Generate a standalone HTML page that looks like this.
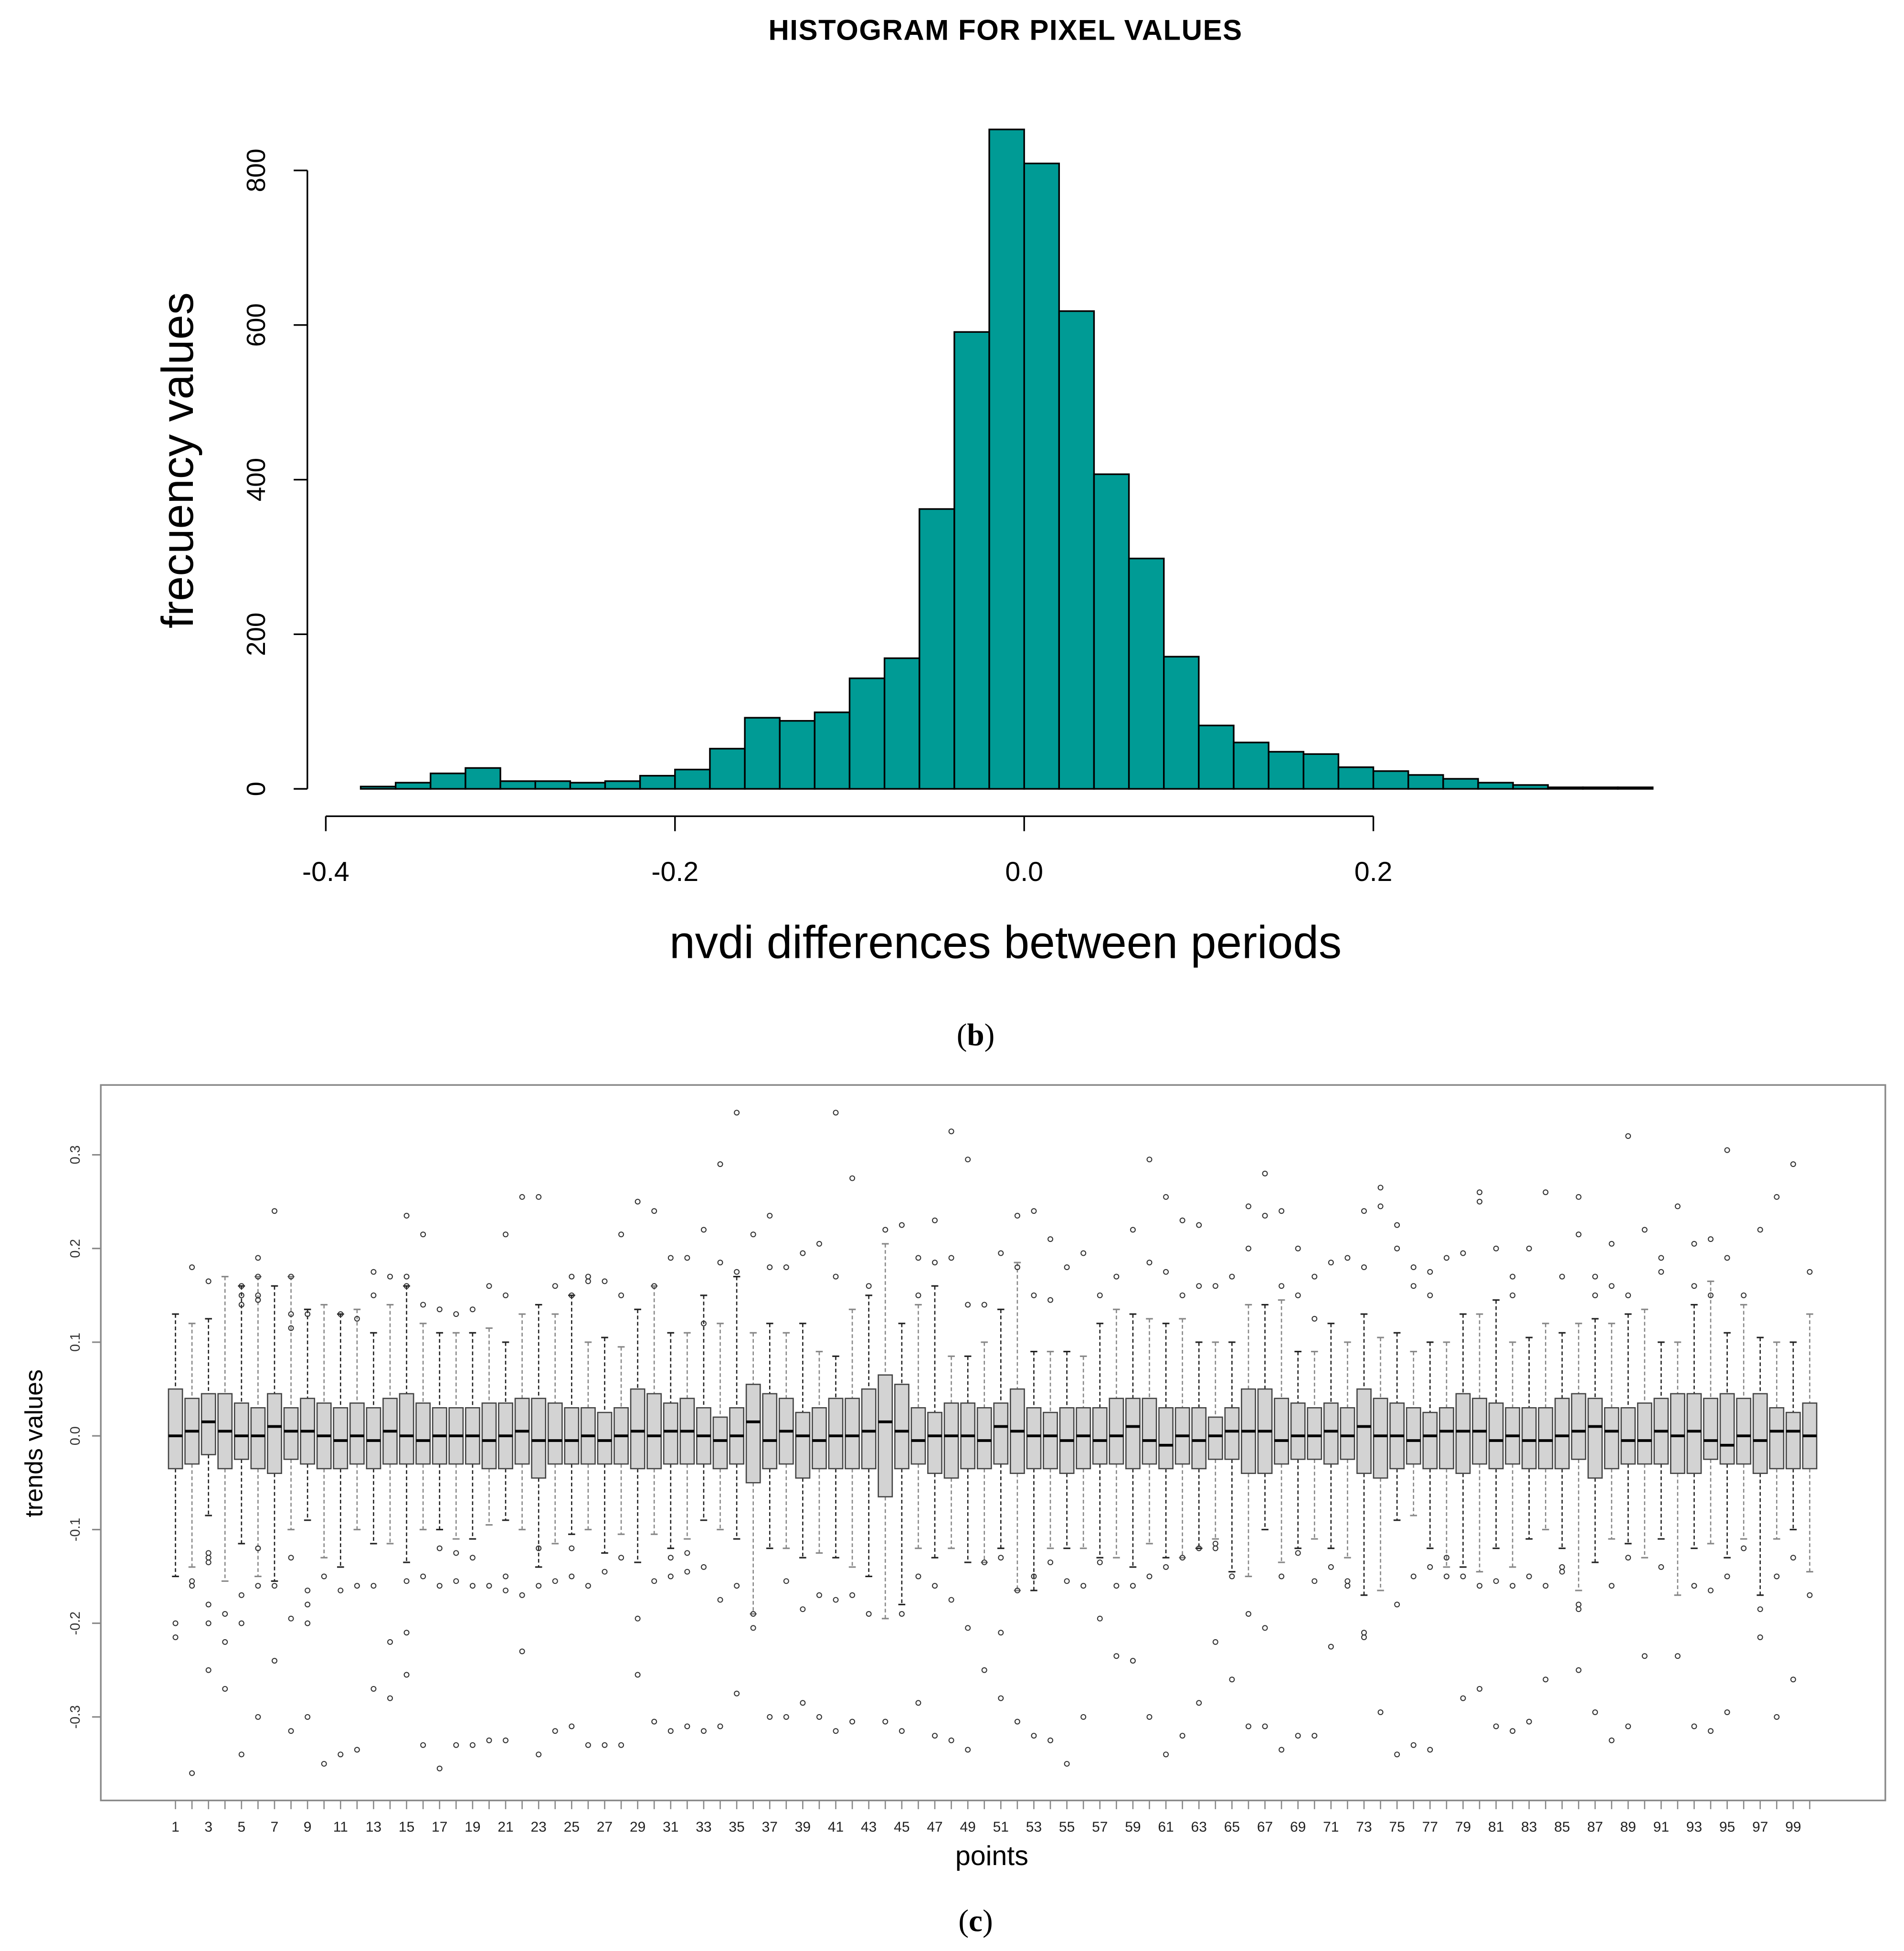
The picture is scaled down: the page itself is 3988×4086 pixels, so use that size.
<!DOCTYPE html>
<html><head><meta charset="utf-8"><style>
html,body{margin:0;padding:0;background:#fff;}
svg{display:block;}
text{font-family:"Liberation Sans",sans-serif;}
</style></head><body>
<svg id="fig" width="3988" height="4086" viewBox="0 0 1530 1568" preserveAspectRatio="none" xmlns="http://www.w3.org/2000/svg">
<rect x="0" y="0" width="1530" height="1568" fill="#fff"/>
<text x="808" y="32" text-anchor="middle" font-size="23" font-weight="bold" letter-spacing="0.6">HISTOGRAM FOR PIXEL VALUES</text>
<g id="hist"></g>
<text transform="translate(155,370) rotate(-90)" text-anchor="middle" font-size="36">frecuency values</text>
<text x="808" y="770" text-anchor="middle" font-size="37">nvdi differences between periods</text>
<text x="784" y="840" text-anchor="middle" font-size="25" style="font-family:'Liberation Serif',serif">(<tspan font-weight="bold">b</tspan>)</text>
<rect x="81" y="872" width="1434" height="575" fill="none" stroke="#888" stroke-width="1.3"/>
<g id="box"></g>
<text transform="translate(34,1160) rotate(-90)" text-anchor="middle" font-size="20">trends values</text>
<text x="797" y="1499" text-anchor="middle" font-size="22">points</text>
<text x="784" y="1552" text-anchor="middle" font-size="25" style="font-family:'Liberation Serif',serif">(<tspan font-weight="bold">c</tspan>)</text>
</svg>
<script>
const binStarts=[-0.38,-0.36,-0.34,-0.32,-0.30,-0.28,-0.26,-0.24,-0.22,-0.20,-0.18,-0.16,-0.14,-0.12,-0.10,-0.08,-0.06,-0.04,-0.02,0.00,0.02,0.04,0.06,0.08,0.10,0.12,0.14,0.16,0.18,0.20,0.22,0.24,0.26,0.28,0.30,0.32,0.34];
const binCounts=[3,8,20,27,10,10,8,10,17,25,52,92,88,99,143,169,362,591,853,809,618,407,298,171,82,60,48,45,28,23,18,13,8,5,2,2,2];
const binWidth=0.02;
const histYTicks=[0,200,400,600,800];
const histXTicks=[-0.4,-0.2,0.0,0.2];
const histXTickLabels=["-0.4","-0.2","0.0","0.2"];

const boxMed=[0,0.5,1.5,0.5,0,0,1,0.5,0.5,0,-0.5,0,-0.5,0.5,0,-0.5,0,0,0,-0.5,0,0.5,-0.5,-0.5,-0.5,0,-0.5,0,0.5,0,0.5,0.5,0,-0.5,0,1.5,-0.5,0.5,0,-0.5,0,0,0.5,1.5,0.5,-0.5,0,0,0,-0.5,1,0.5,0,0,-0.5,0,-0.5,0,1,-0.5,-1,0,-0.5,0,0.5,0.5,0.5,-0.5,0,0,0.5,0,1,0,0,-0.5,0,0.5,0.5,0.5,-0.5,0,-0.5,-0.5,0,0.5,1,0.5,-0.5,-0.5,0.5,0,0.5,-0.5,-1,0,-0.5,0.5,0.5,0];
const boxQ1=[-3.5,-3,-2,-3.5,-2.5,-3.5,-4,-2.5,-3,-3.5,-3.5,-3,-3.5,-3,-3,-3,-3,-3,-3,-3.5,-3.5,-3,-4.5,-3,-3,-3,-3,-3,-3.5,-3.5,-3,-3,-3,-3.5,-3,-5,-3.5,-3,-4.5,-3.5,-3.5,-3.5,-3.5,-6.5,-3.5,-3,-4,-4.5,-3.5,-3.5,-3,-4,-3.5,-3.5,-4,-3.5,-3,-3,-3.5,-3,-3.5,-3,-3.5,-2.5,-2.5,-4,-4,-3,-2.5,-2.5,-3,-2.5,-4,-4.5,-3.5,-3,-3.5,-3.5,-4,-3,-3.5,-3,-3.5,-3.5,-3.5,-2.5,-4.5,-3.5,-3,-3,-3,-4,-4,-2.5,-3,-3,-4,-3.5,-3.5,-3.5];
const boxQ3=[5,4,4.5,4.5,3.5,3,4.5,3,4,3.5,3,3.5,3,4,4.5,3.5,3,3,3,3.5,3.5,4,4,3.5,3,3,2.5,3,5,4.5,3.5,4,3,2,3,5.5,4.5,4,2.5,3,4,4,5,6.5,5.5,3,2.5,3.5,3.5,3,3.5,5,3,2.5,3,3,3,4,4,4,3,3,3,2,3,5,5,4,3.5,3,3.5,3,5,4,3.5,3,2.5,3,4.5,4,3.5,3,3,3,4,4.5,4,3,3,3.5,4,4.5,4.5,4,4.5,4,4.5,3,2.5,3.5];
const boxHi=[13,12,12.5,17,16,17,16,17,13.5,14,13,13.5,11,14,16,12,11,11,11,11.5,10,13,14,13,15,10,10.5,9.5,13.5,16,11,11,15,12,17,11,12,11,12,9,8.5,13.5,15,20.5,12,14,16,8.5,8.5,10,13.5,18.5,9,9,9,8.5,12,13.5,13,12.5,12,12.5,10,10,10,14,14,14.5,9,9,12,10,13,10.5,11,9,10,10,13,13,14.5,10,10.5,12,11,12,12.5,12,13,13.5,10,10,14,16.5,11,14,10.5,10,10,13];
const boxLo=[-15,-14,-8.5,-15.5,-11.5,-15,-15.5,-10,-9,-13,-14,-10,-11.5,-11.5,-13.5,-10,-10,-11,-11,-9.5,-9,-10,-14,-11.5,-10.5,-10,-12.5,-10.5,-13.5,-10.5,-12,-11,-9,-10,-11,-19,-12,-12,-13,-12.5,-13,-14,-15,-19.5,-18,-12,-13,-12,-13.5,-13.5,-12,-16.5,-16.5,-12,-12,-12,-13,-13,-14,-11.5,-13,-13,-12,-11,-14.5,-15,-10,-13.5,-12,-11,-12,-13,-17,-16.5,-9,-8.5,-12,-14,-14,-14.5,-12,-14,-11,-10,-12,-16.5,-13.5,-11,-11.5,-13,-11,-17,-12,-11.5,-13,-11,-17,-11,-10,-14.5];
const boxOut=[[-20,-21.5],[18,-15.5,-16,-36],[16.5,-12.5,-13,-13.5,-18,-25,-20],[-19,-27,-22],[15,16,14,-17,-20,-34],[17,19,14.5,15,-12,-16,-30],[24,-16,-24],[17,13,11.5,-13,-19.5,-31.5],[13,-16.5,-18,-20,-30],[-15,-35],[13,-16.5,-34],[12.5,-16,-33.5],[17.5,15,-16,-27],[17,-22,-28],[23.5,17,16,-15.5,-21,-25.5],[21.5,14,-15,-33],[13.5,-12,-16,-35.5],[13,-12.5,-15.5,-33],[13.5,-13,-16,-33],[16,-16,-32.5],[21.5,15,-15,-16.5,-32.5],[25.5,-17,-23],[25.5,-12,-16,-34],[16,-15.5,-31.5],[17,15,-12,-15,-31],[17,16.5,-16,-33],[16.5,-14.5,-33],[21.5,15,-13,-33],[25,-19.5,-25.5],[24,16,-15.5,-30.5],[19,-13,-15,-31.5],[19,-12.5,-14.5,-31],[22,12,-14,-31.5],[29,18.5,-17.5,-31],[34.5,17.5,-16,-27.5],[21.5,-19,-20.5],[23.5,18,-30],[18,-15.5,-30],[19.5,-18.5,-28.5],[20.5,-17,-30],[34.5,17,-17.5,-31.5],[27.5,-17,-30.5],[16,-19],[22,-30.5],[22.5,-19,-31.5],[19,15,-15,-28.5],[23,18.5,-16,-32],[32.5,19,-17.5,-32.5],[29.5,14,-20.5,-33.5],[14,-13.5,-25],[19.5,-13,-21,-28],[23.5,18,-16.5,-30.5],[24,15,-15,-32],[21,14.5,-13.5,-32.5],[18,-15.5,-35],[19.5,-16,-30],[15,-13.5,-19.5],[17,-16,-23.5],[22,-16,-24],[29.5,18.5,-15,-30],[25.5,17.5,-14,-34],[23,15,-13,-32],[22.5,16,-12,-28.5],[16,-11.5,-12,-22],[17,-15,-26],[24.5,20,-19,-31],[28,23.5,-20.5,-31],[24,16,-15,-33.5],[20,15,-12.5,-32],[17,12.5,-15.5,-32],[18.5,-14,-22.5],[19,-15.5,-16],[24,18,-21,-21.5],[26.5,24.5,-29.5],[22.5,20,-18,-34],[18,16,-15,-33],[17.5,15,-14,-33.5],[19,-13,-15],[19.5,-15,-28],[26,25,-16,-27],[20,-15.5,-31],[17,15,-16,-31.5],[20,-15,-30.5],[26,-16,-26],[17,-14,-14.5],[25.5,21.5,-18,-18.5,-25],[17,15,-29.5],[20.5,16,-16,-32.5],[32,15,-13,-31],[22,-23.5],[19,17.5,-14],[24.5,-23.5],[20.5,16,-16,-31],[21,15,-16.5,-31.5],[30.5,19,-15,-29.5],[15,-12],[22,-18.5,-21.5],[25.5,-15,-30],[29,-13,-26],[17.5,-17]];
const boxYTicks=[-0.3,-0.2,-0.1,0.0,0.1,0.2,0.3];
const boxYTickLabels=["-0.3","-0.2","-0.1","0.0","0.1","0.2","0.3"];

const NS="http://www.w3.org/2000/svg";
function mk(parent,tag,attrs){const e=document.createElementNS(NS,tag);for(const k in attrs)e.setAttribute(k,attrs[k]);parent.appendChild(e);return e;}
const xH=v=>823+v*1403;
const yH=c=>634-c*0.6213;
const xB=i=>141+(i-1)*13.265;
const yB=pct=>1154-pct*7.53;

const hist=document.getElementById('hist');
binStarts.forEach((s,i)=>{
  const r=mk(hist,'rect',{x:xH(s),y:yH(binCounts[i]),width:xH(s+binWidth)-xH(s),height:yH(0)-yH(binCounts[i]),fill:'#009b95',stroke:'#000','stroke-width':1.3});
  
  
});
let ax=mk(hist,'line',{x1:247,x2:247,y1:yH(800),y2:yH(0),stroke:'#000','stroke-width':1.3});


histYTicks.forEach(t=>{
  const l=mk(hist,'line',{x1:236,x2:247,y1:yH(t),y2:yH(t),stroke:'#000','stroke-width':1.3});
  
  
  const tx=mk(hist,'text',{transform:`translate(213,${yH(t)}) rotate(-90)`,'text-anchor':'middle','font-size':21});
  tx.textContent=String(t);
  
  
});
ax=mk(hist,'line',{x1:xH(-0.4),x2:xH(0.2),y1:656,y2:656,stroke:'#000','stroke-width':1.3});


histXTicks.forEach((t,i)=>{
  const l=mk(hist,'line',{x1:xH(t),x2:xH(t),y1:656,y2:668,stroke:'#000','stroke-width':1.3});
  
  
  const tx=mk(hist,'text',{x:xH(t),y:708,'text-anchor':'middle','font-size':22});
  tx.textContent=histXTickLabels[i];
  
  
});

const box=document.getElementById('box');
boxYTicks.forEach((t,i)=>{
  const y=yB(t*100);
  const l=mk(box,'line',{x1:74,x2:81,y1:y,y2:y,stroke:'#888','stroke-width':1.2});
  
  
  const tx=mk(box,'text',{transform:`translate(64,${y}) rotate(-90)`,'text-anchor':'middle','font-size':11,fill:'#333'});
  tx.textContent=boxYTickLabels[i];
  
  
});
for(let i=1;i<=boxMed.length;i++){
  const x=xB(i),k=i-1,hw=5.6;
  const g=mk(box,'g',{});
  
  
  const wc=(i%2===0)?'#888':'#222';
  mk(g,'line',{x1:x,x2:x,y1:yB(boxHi[k]),y2:yB(boxQ3[k]),stroke:wc,'stroke-width':1,'stroke-dasharray':'3,2'});
  mk(g,'line',{x1:x,x2:x,y1:yB(boxQ1[k]),y2:yB(boxLo[k]),stroke:wc,'stroke-width':1,'stroke-dasharray':'3,2'});
  mk(g,'line',{x1:x-2.8,x2:x+2.8,y1:yB(boxHi[k]),y2:yB(boxHi[k]),stroke:wc,'stroke-width':1.2});
  mk(g,'line',{x1:x-2.8,x2:x+2.8,y1:yB(boxLo[k]),y2:yB(boxLo[k]),stroke:wc,'stroke-width':1.2});
  mk(g,'rect',{x:x-hw,y:yB(boxQ3[k]),width:hw*2,height:yB(boxQ1[k])-yB(boxQ3[k]),fill:'#d3d3d3',stroke:'#444','stroke-width':1});
  mk(g,'line',{x1:x-hw,x2:x+hw,y1:yB(boxMed[k]),y2:yB(boxMed[k]),stroke:'#000','stroke-width':2.2});
  boxOut[k].forEach(o=>{mk(g,'circle',{cx:x,cy:yB(o),r:1.9,fill:'none',stroke:'#333','stroke-width':0.8});});
  const t=mk(box,'line',{x1:x,x2:x,y1:1447,y2:1454,stroke:'#888','stroke-width':1});
  
  
  if(i%2===1){
    const tx=mk(box,'text',{x:x,y:1472,'text-anchor':'middle','font-size':11.5,fill:'#222'});
    tx.textContent=String(i);
    
    
  }
}
</script>
</body></html>
